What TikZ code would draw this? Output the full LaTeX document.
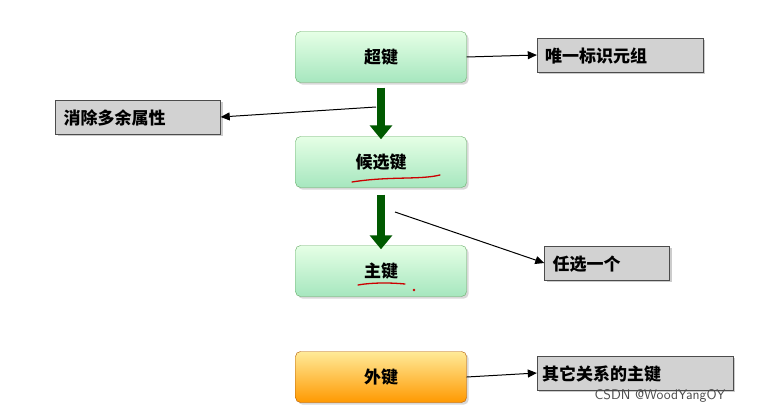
\documentclass[tikz,border=0pt]{standalone}
\usepackage{fontspec}
\newfontfamily\cjk{Noto Sans CJK SC}
\usetikzlibrary{arrows.meta,shadows}
\begin{document}
\begin{tikzpicture}[x=1pt,y=-1pt,
 gbox/.style={draw=green!45!black!60,rounded corners=5pt,top color=green!10,bottom color=green!45!teal!35,minimum width=171pt,minimum height=51pt,font=\cjk\bfseries\fontsize{17}{17}\selectfont,drop shadow={opacity=0.3}},
 ybox/.style={gbox,draw=orange!70!black,top color=yellow!60!orange!40,bottom color=orange!80!yellow},
 tbox/.style={draw=gray!60!black,fill=gray!35,minimum height=34pt,font=\cjk\bfseries\fontsize{17}{17}\selectfont,inner sep=0pt,text depth=0pt,drop shadow={opacity=0.4}},
 thin/.style={-{Triangle[length=9pt,width=8pt]},line width=1pt},
 fat/.style={-{Triangle[length=14pt,width=22pt]},line width=8pt,green!35!black}]
\useasboundingbox[fill=white](0,0) rectangle (767,414);
\node[gbox] (sk) at (381,57) {超键};
\node[gbox] (ck) at (381,162) {候选键};
\node[gbox] (pk) at (381,271) {主键};
\node[ybox] (fk) at (381,377) {外键};
\node[tbox,minimum width=166pt,text width=150pt,align=left] (t1) at (620,55) {唯一标识元组};
\node[tbox,minimum width=165pt,text width=149pt,align=left] (t2) at (138,117) {消除多余属性};
\node[tbox,minimum width=125pt,text width=109pt,align=left] (t3) at (607,263) {任选一个};
\node[tbox,minimum width=196pt,text width=186pt,align=left] (t4) at (635,373) {其它关系的主键};
\draw[thin] (sk.east) -- (t1.west);
\draw[thin] (fk.east) -- (t4.west);
\coordinate (a1) at (376,107);
\draw[thin] (a1) -- (t2.east);
\coordinate (a2) at (395,212);
\draw[thin] (a2) -- (t3.west);
\draw[fat] (sk.south) ++(0,5) -- ([yshift=-3pt]ck.north);
\draw[fat] (ck.south) ++(0,7) -- ([yshift=-4pt]pk.north);
\draw[red!80!black,line width=1.3pt,line cap=round] (352,182) .. controls (390,176) and (420,180) .. (440,175);
\draw[red!80!black,line width=1.3pt,line cap=round] (358,285) .. controls (375,282) and (395,283) .. (405,284);
\fill[red!80!black] (414,290) circle (1.3pt);
\node[gray!60!black,font=\fontsize{14}{14}\selectfont\sffamily] (wm) at (660,396) {CSDN @WoodYangOY};
\end{tikzpicture}
\end{document}
